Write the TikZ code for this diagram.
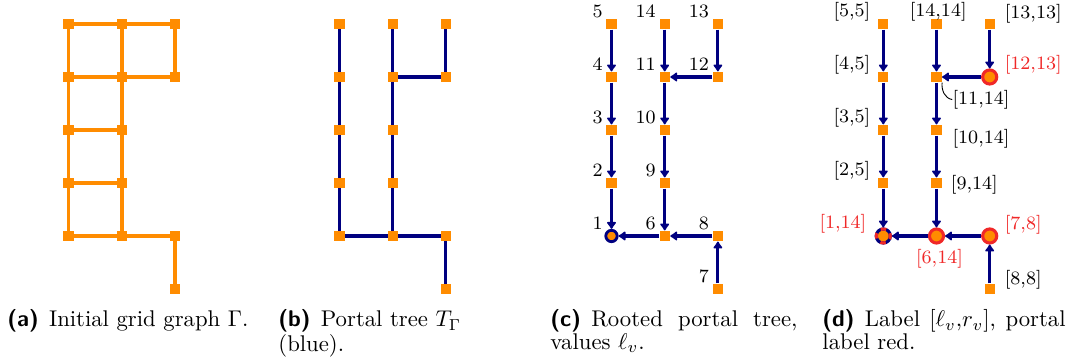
\documentclass[tikz,border=0pt]{standalone}
\usetikzlibrary{arrows.meta,backgrounds}
\definecolor{gor}{RGB}{255,140,0}
\definecolor{gnavy}{RGB}{0,0,128}
\definecolor{pred}{RGB}{240,40,40}
\begin{document}
\begin{tikzpicture}[x=0.44pt,y=-0.44pt,
  sq/.style={rectangle, fill=gor, inner sep=0pt, minimum size=4.5pt},
  rootc/.style={circle, draw=gnavy, line width=1.25pt, fill=gor, inner sep=0pt, minimum size=5pt},
  portal/.style={circle, draw=pred, line width=1.35pt, fill=gor, inner sep=0pt, minimum size=6.2pt},
  gedge/.style={draw=gor, line width=1.6pt},
  tedge/.style={draw=gnavy, line width=1.35pt},
  aedge/.style={tedge, -{Latex[round,length=3.5pt,width=5pt]}},
  lbl/.style={inner sep=0pt, font=\fontsize{8.3}{9.5}\selectfont},
  plbl/.style={lbl, text=pred},
  pinline/.style={draw=black, line width=0.4pt},
  captxt/.style={inner sep=0pt, font=\fontsize{10}{9.8}\selectfont, anchor=base west}
]
\useasboundingbox (0,0) rectangle (1075,364);

% ---------- (a) grid graph ----------
\foreach \c/\r in {0/0,0/1,0/2,0/3,0/4,1/0,1/1,1/2,1/3,1/4,2/0,2/1,2/4,2/5}
  \node[sq] (a\c\r) at ({68.5+53.2*\c},{24+53*\r}) {};
\begin{pgfonlayer}{background}
\foreach \p/\q in {a00/a01,a01/a02,a02/a03,a03/a04,a10/a11,a11/a12,a12/a13,a13/a14,
  a20/a21,a24/a25,a00/a10,a10/a20,a01/a11,a11/a21,a02/a12,a03/a13,a04/a14,a14/a24}
  \draw[gedge] (\p.center) -- (\q.center);
\end{pgfonlayer}

% ---------- (b) portal tree ----------
\foreach \c/\r in {0/0,0/1,0/2,0/3,0/4,1/0,1/1,1/2,1/3,1/4,2/0,2/1,2/4,2/5}
  \node[sq] (b\c\r) at ({339.5+53.2*\c},{24+53*\r}) {};
\begin{pgfonlayer}{background}
\foreach \p/\q in {b00/b01,b01/b02,b02/b03,b03/b04,b10/b11,b11/b12,b12/b13,b13/b14,
  b20/b21,b11/b21,b04/b14,b14/b24,b24/b25}
  \draw[tedge] (\p.center) -- (\q.center);
\end{pgfonlayer}

% ---------- (c) rooted portal tree ----------
\foreach \c/\r in {0/0,0/1,0/2,0/3,1/0,1/1,1/2,1/3,1/4,2/0,2/1,2/4,2/5}
  \node[sq] (c\c\r) at ({611.5+53.2*\c},{24+53*\r}) {};
\node[rootc] (c04) at (611.5,236) {};
\foreach \p/\q in {c00/c01,c01/c02,c02/c03,c03/c04,c10/c11,c11/c12,c12/c13,c13/c14,
  c20/c21,c21/c11,c14/c04,c24/c14,c25/c24}
  \draw[aedge] (\p) -- (\q);
\foreach \n/\t in {c00/5,c01/4,c02/3,c03/2,c04/1,c10/14,c11/11,c12/10,c13/9,c14/6,c20/13,c21/12,c24/8,c25/7}
  \node[lbl, anchor=base east] (l\n) at ([shift={(-8.5,-6)}]\n.center) {\t};

% ---------- (d) labels ----------
\foreach \c/\r in {0/0,0/1,0/2,0/3,1/0,1/1,1/2,1/3,2/0,2/5}
  \node[sq] (d\c\r) at ({883.3+53.2*\c},{24+53*\r}) {};
\node[portal] (d21) at (989.7,77) {};
\node[portal] (d14) at (936.5,236) {};
\node[portal] (d24) at (989.7,236) {};
\node[circle, draw=gnavy, line width=1.35pt, fill=gor, inner sep=0pt, minimum size=6.2pt] (d04) at (883.3,236) {};
\draw[pred, line width=1.35pt, dash pattern=on 2.4pt off 2.4pt, dash phase=1.2pt] (d04) circle[radius=3.1pt];
\foreach \p/\q in {d00/d01,d01/d02,d02/d03,d03/d04,d10/d11,d11/d12,d12/d13,d13/d14,
  d20/d21,d21/d11,d14/d04,d24/d14,d25/d24}
  \draw[aedge] (\p) -- (\q);
% column 0
\node[lbl, anchor=base east] (ld00) at ([shift={(-12.6,-7)}]d00.center) {[5,5]};
\node[lbl, anchor=base east] (ld01) at ([shift={(-12.6,-7)}]d01.center) {[4,5]};
\node[lbl, anchor=base east] (ld02) at ([shift={(-12.6,-7)}]d02.center) {[3,5]};
\node[lbl, anchor=base east] (ld03) at ([shift={(-12.6,-7)}]d03.center) {[2,5]};
\node[plbl, anchor=base east] (ld04) at ([shift={(-16.6,-7)}]d04.center) {[1,14]};
% column 1
\node[lbl, anchor=base] (ld10) at ([shift={(1.7,-7)}]d10.center) {[14,14]};
\node[lbl, anchor=base west] (ld11) at ([shift={(15.7,27.3)}]d11.center) {[11,14]};
\node[lbl, anchor=base west] (ld12) at ([shift={(15.7,13.3)}]d12.center) {[10,14]};
\node[lbl, anchor=base west] (ld13) at ([shift={(14,7)}]d13.center) {[9,14]};
\node[plbl, anchor=base] (ld14) at ([shift={(3,27.3)}]d14.center) {[6,14]};
% column 2
\node[lbl, anchor=base west] (ld20) at ([shift={(14.7,-5.3)}]d20.center) {[13,13]};
\node[plbl, anchor=base west] (ld21) at ([shift={(14.7,-7)}]d21.center) {[12,13]};
\node[plbl, anchor=base west] (ld24) at ([shift={(14.7,-6.7)}]d24.center) {[7,8]};
\node[lbl, anchor=base west] (ld25) at ([shift={(14.7,-4.7)}]d25.center) {[8,8]};
\draw[pinline] (d11.south east) to[out=-95,in=170] (ld11.west);

% ---------- captions ----------
\node[captxt] (capa) at (7,327) {\textsf{\bfseries (a)}\hspace{4.5pt}Initial grid graph $\Gamma$.};
\node[captxt, text width=108pt, align=left] (capb) at (278,327) {\textsf{\bfseries (b)}\hspace{4.5pt}Portal tree $T_\Gamma$\\(blue).};
\node[captxt, text width=108.7pt, align=justify] (capc) at (550,327) {\textsf{\bfseries (c)}\hspace{4.5pt}Rooted portal tree,\linebreak values $\ell_v$.};
\node[captxt, text width=107pt, align=justify] (capd) at (822,327) {\textsf{\bfseries (d)}\hspace{4.5pt}Label $[\ell_v{,}r_v]$, portal\linebreak label red.};
\end{tikzpicture}
\end{document}
